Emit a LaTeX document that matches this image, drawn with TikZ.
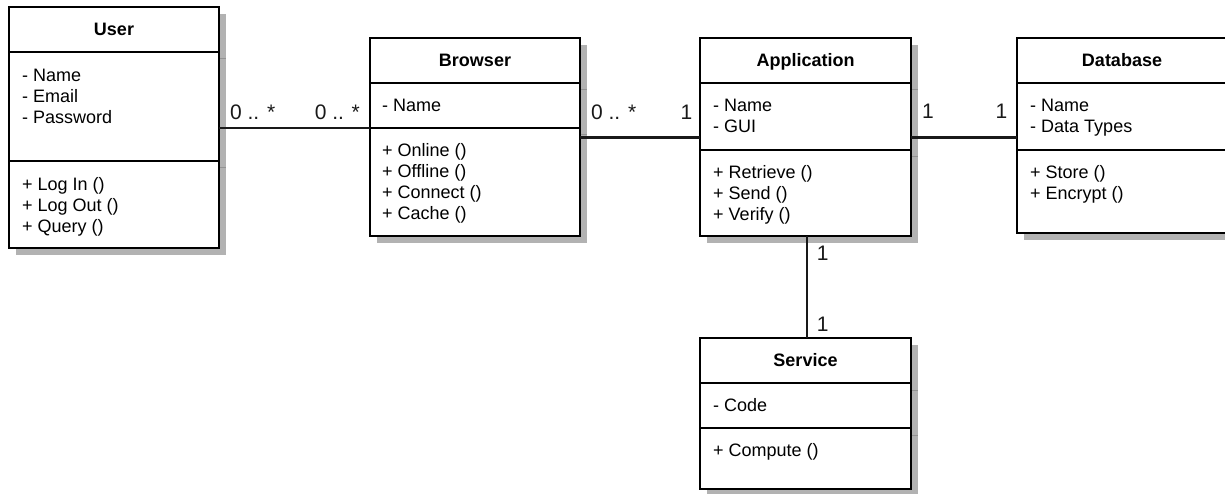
\documentclass[tikz,border=0pt]{standalone}
\usepackage{fontspec}
\setmainfont{Liberation Sans}
\usepackage{xcolor}
\usepackage{tikz}
\usetikzlibrary{positioning, calc, backgrounds}

\tikzset{
  classtitle/.style={draw, line width=2.6pt, fill=white, outer sep=0pt, inner sep=0pt,
    minimum width=210pt, minimum height=45pt, text height=12.9pt, text depth=0pt,
    font=\bfseries\fontsize{18}{21}\selectfont},
  compart/.style={draw, line width=2.6pt, fill=white, outer sep=0pt, inner sep=0pt,
    minimum width=210pt},
  members/.style={anchor=north west, align=left, inner sep=0pt,
    font=\fontsize{18}{21}\selectfont},
  mult/.style={inner sep=0pt, font=\fontsize{21}{24}\selectfont},
  assoc/.style={line width=2.2pt, black!90},
  classshadow/.style={fill=gray!60},
  shadowline/.style={gray!85, line width=1pt}
}

\begin{document}
\begin{tikzpicture}[x=1pt, y=-1pt]
    \useasboundingbox (0,0) rectangle (1225,494);

    % User
    \node[classtitle] (usertitle) at (114,29.5) {User};
    \node[compart, minimum height=109pt, below=0pt of usertitle] (userattr) {};
    \node[compart, minimum height=87pt, below=0pt of userattr] (usermeth) {};
    \node[members] (userattrtext) at ([xshift=13pt,yshift=-16.5pt]userattr.north west) {- Name\\- Email\\- Password};
    \node[members] (usermethtext) at ([xshift=13pt,yshift=-16.5pt]usermeth.north west) {+ Log In ()\\+ Log Out ()\\+ Query ()};

    % Browser
    \node[classtitle] (browsertitle) at (475,60.5) {Browser};
    \node[compart, minimum height=45pt, below=0pt of browsertitle] (browserattr) {};
    \node[compart, minimum height=108pt, below=0pt of browserattr] (browsermeth) {};
    \node[members] (browserattrtext) at ([xshift=12pt,yshift=-15.5pt]browserattr.north west) {- Name};
    \node[members] (browsermethtext) at ([xshift=12pt,yshift=-15.5pt]browsermeth.north west) {+ Online ()\\+ Offline ()\\+ Connect ()\\+ Cache ()};

    % Application
    \node[classtitle, minimum width=211pt] (apptitle) at (805.5,60.5) {Application};
    \node[compart, minimum width=211pt, minimum height=67pt, below=0pt of apptitle] (appattr) {};
    \node[compart, minimum width=211pt, minimum height=86pt, below=0pt of appattr] (appmeth) {};
    \node[members] (appattrtext) at ([xshift=13pt,yshift=-15.5pt]appattr.north west) {- Name\\- GUI};
    \node[members] (appmethtext) at ([xshift=13pt,yshift=-15.5pt]appmeth.north west) {+ Retrieve ()\\+ Send ()\\+ Verify ()};

    % Database
    \node[classtitle] (dbtitle) at (1122,60.5) {Database};
    \node[compart, minimum height=67pt, below=0pt of dbtitle] (dbattr) {};
    \node[compart, minimum height=83pt, below=0pt of dbattr] (dbmeth) {};
    \node[members] (dbattrtext) at ([xshift=13pt,yshift=-15.5pt]dbattr.north west) {- Name\\- Data Types};
    \node[members] (dbmethtext) at ([xshift=13pt,yshift=-15.5pt]dbmeth.north west) {+ Store ()\\+ Encrypt ()};

    % Service
    \node[classtitle, minimum width=211pt] (servicetitle) at (805.5,360.5) {Service};
    \node[compart, minimum width=211pt, minimum height=45pt, below=0pt of servicetitle] (serviceattr) {};
    \node[compart, minimum width=211pt, minimum height=61pt, below=0pt of serviceattr] (servicemeth) {};
    \node[members] (serviceattrtext) at ([xshift=13pt,yshift=-15.5pt]serviceattr.north west) {- Code};
    \node[members] (servicemethtext) at ([xshift=13pt,yshift=-15.5pt]servicemeth.north west) {+ Compute ()};

    % shadows
    \begin{scope}[on background layer]
      \foreach \c in {user,browser,app,db,service} {
        \fill[classshadow] ([shift={(7pt,-7pt)}]\c title.north west) rectangle ([shift={(7pt,-7pt)}]\c meth.south east);
        \draw[shadowline] ([yshift=-7pt]\c attr.north east) -- ([shift={(7pt,-7pt)}]\c attr.north east);
        \draw[shadowline] ([yshift=-7pt]\c meth.north east) -- ([shift={(7pt,-7pt)}]\c meth.north east);
      }
    \end{scope}

    % associations
    \coordinate (appjoin) at ([yshift=-21pt]appattr.west);

    \draw[assoc] (browserattr.south west -| userattr.east) -- (browserattr.south west)
      node[mult, pos=0, anchor=base west, xshift=10pt, yshift=8pt] {0 .. *}
      node[mult, pos=1, anchor=base east, xshift=-9pt, yshift=8pt] {0 .. *};

    \draw[assoc] (appjoin -| browsermeth.east) -- (appjoin)
      node[mult, pos=0, anchor=base west, xshift=10pt, yshift=17.5pt] {0 .. *}
      node[mult, pos=1, anchor=base east, xshift=-6.5pt, yshift=17.5pt] {1};

    \draw[assoc] (appjoin -| appattr.east) -- (appjoin -| dbattr.west)
      node[mult, pos=0, anchor=base west, xshift=10pt, yshift=18.5pt] {1}
      node[mult, pos=1, anchor=base east, xshift=-8.5pt, yshift=18.5pt] {1};

    \draw[assoc] ([xshift=1.5pt]appmeth.south) -- ([xshift=1.5pt]servicetitle.north)
      node[mult, pos=0, anchor=base west, xshift=8.7pt, yshift=-24pt] {1}
      node[mult, pos=1, anchor=base west, xshift=8.7pt, yshift=7pt] {1};
  \end{tikzpicture}
\end{document}
